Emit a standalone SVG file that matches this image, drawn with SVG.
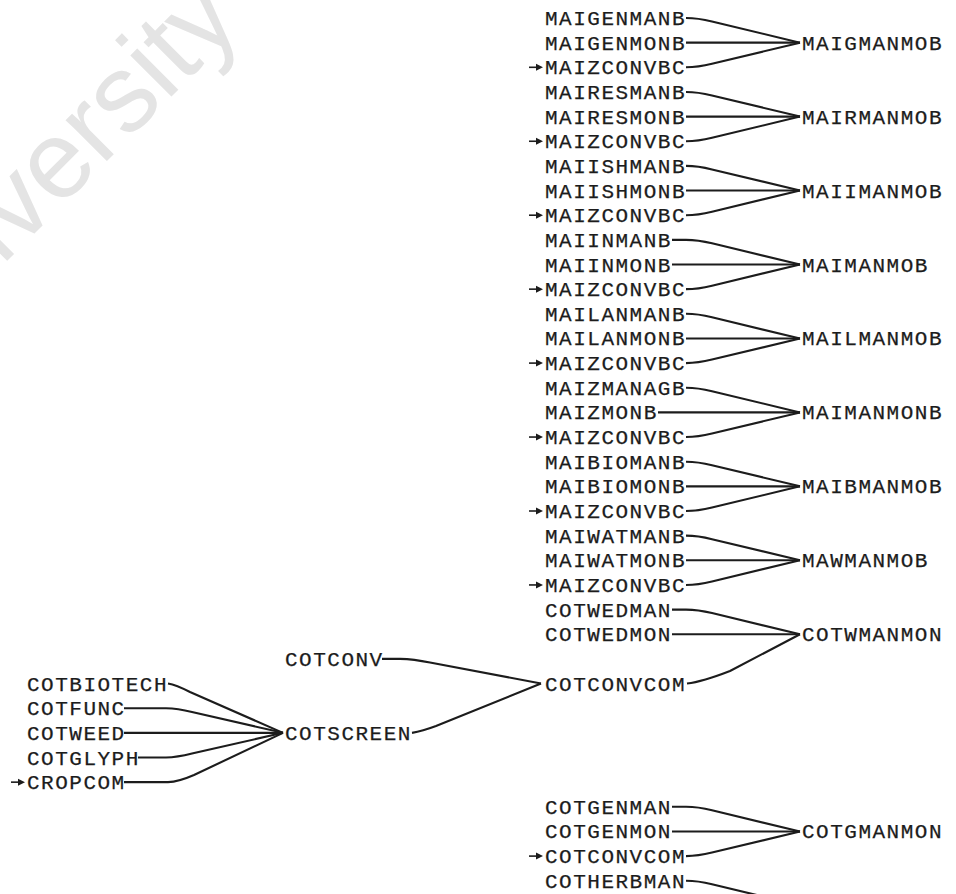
<svg xmlns="http://www.w3.org/2000/svg" width="956" height="894" viewBox="0 0 956 894">
<style>
.t{font-family:"Liberation Mono","DejaVu Sans Mono",monospace;font-size:21px;letter-spacing:1.5px;fill:#1c1c1c;stroke:#1c1c1c;stroke-width:0.25}
.e{fill:none;stroke:#1c1c1c;stroke-width:2.1;stroke-linejoin:round}
.wm{font-family:"Liberation Sans",Arial,sans-serif;font-size:110px;fill:#e4e4e4}
</style>
<defs>
<g id="arr"><path d="M-16,0 H-6" stroke="#1c1c1c" stroke-width="1.6" fill="none"/><path d="M-9,-3.5 L-2,0 L-9,3.5 Z" fill="#1c1c1c"/></g>
</defs>
<rect width="956" height="894" fill="#fff"/>
<text class="wm" text-anchor="end" transform="translate(244,24) rotate(-45)">University</text>

<g id="connectors">
<path class="e" d="M686,18 C698,18 704,19.5 712,21.5 L800,42.65"/>
<path class="e" d="M686,42.65 H800"/>
<path class="e" d="M686,67.3 C698,67.3 704,65.8 712,63.8 L800,42.65"/>
<path class="e" d="M686,91.95 C698,91.95 704,93.45 712,95.45 L800,116.6"/>
<path class="e" d="M686,116.6 H800"/>
<path class="e" d="M686,141.25 C698,141.25 704,139.75 712,137.75 L800,116.6"/>
<path class="e" d="M686,165.9 C698,165.9 704,167.4 712,169.4 L800,190.55"/>
<path class="e" d="M686,190.55 H800"/>
<path class="e" d="M686,215.2 C698,215.2 704,213.7 712,211.7 L800,190.55"/>
<path class="e" d="M672,239.85 H686 C698,239.85 704,241.35 712,243.35 L800,264.5"/>
<path class="e" d="M672,264.5 H800"/>
<path class="e" d="M686,289.15 C698,289.15 704,287.65 712,285.65 L800,264.5"/>
<path class="e" d="M686,313.8 C698,313.8 704,315.3 712,317.3 L800,338.45"/>
<path class="e" d="M686,338.45 H800"/>
<path class="e" d="M686,363.1 C698,363.1 704,361.6 712,359.6 L800,338.45"/>
<path class="e" d="M686,387.75 C698,387.75 704,389.25 712,391.25 L800,412.4"/>
<path class="e" d="M658,412.4 H800"/>
<path class="e" d="M686,437.05 C698,437.05 704,435.55 712,433.55 L800,412.4"/>
<path class="e" d="M686,461.7 C698,461.7 704,463.2 712,465.2 L800,486.35"/>
<path class="e" d="M686,486.35 H800"/>
<path class="e" d="M686,511 C698,511 704,509.5 712,507.5 L800,486.35"/>
<path class="e" d="M686,535.65 C698,535.65 704,537.15 712,539.15 L800,560.3"/>
<path class="e" d="M686,560.3 H800"/>
<path class="e" d="M686,584.95 C698,584.95 704,583.45 712,581.45 L800,560.3"/>
<path class="e" d="M672,609.6 H686 C698,609.6 704,611.1 712,613.1 L800,634.25"/>
<path class="e" d="M672,634.25 H800"/>
<path class="e" d="M687,683.55 C700,682 712,678 730,671 L800,634.25"/>
<path class="e" d="M168,683.55 C176,685 182,688 190,692 L283,732.85"/>
<path class="e" d="M124,708.2 H166 C176,708.4 184,710 192,712 L283,732.85"/>
<path class="e" d="M124,732.85 H283"/>
<path class="e" d="M138,757.5 H166 C176,757.3 184,755.5 192,753.5 L283,732.85"/>
<path class="e" d="M124,782.15 H168 C178,781.8 186,778.5 194,775 L283,732.85"/>
<path class="e" d="M382,658.9 H400 C412,659.2 420,660.5 430,662.5 L541,683.55"/>
<path class="e" d="M412,732.85 C420,731.5 428,729 436,726 L541,683.55"/>
<path class="e" d="M672,806.8 H686 C698,806.8 704,808.3 712,810.3 L800,831.45"/>
<path class="e" d="M672,831.45 H800"/>
<path class="e" d="M686,856.1 C698,856.1 704,854.6 712,852.6 L800,831.45"/>
<path class="e" d="M686,880.75 C698,880.75 704,882.25 712,884.25 L800,905.4"/>
</g>

<g id="MAIGENMANB"><text class="t" x="545" y="25">MAIGENMANB</text></g>
<g id="MAIGENMONB"><text class="t" x="545" y="49.65">MAIGENMONB</text></g>
<g id="MAIZCONVBC-1"><use href="#arr" transform="translate(545,67.3)"/><text class="t" x="545" y="74.3">MAIZCONVBC</text></g>
<g id="MAIGMANMOB"><text class="t" x="802" y="49.65">MAIGMANMOB</text></g>

<g id="MAIRESMANB"><text class="t" x="545" y="98.95">MAIRESMANB</text></g>
<g id="MAIRESMONB"><text class="t" x="545" y="123.6">MAIRESMONB</text></g>
<g id="MAIZCONVBC-2"><use href="#arr" transform="translate(545,141.25)"/><text class="t" x="545" y="148.25">MAIZCONVBC</text></g>
<g id="MAIRMANMOB"><text class="t" x="802" y="123.6">MAIRMANMOB</text></g>

<g id="MAIISHMANB"><text class="t" x="545" y="172.9">MAIISHMANB</text></g>
<g id="MAIISHMONB"><text class="t" x="545" y="197.55">MAIISHMONB</text></g>
<g id="MAIZCONVBC-3"><use href="#arr" transform="translate(545,215.2)"/><text class="t" x="545" y="222.2">MAIZCONVBC</text></g>
<g id="MAIIMANMOB"><text class="t" x="802" y="197.55">MAIIMANMOB</text></g>

<g id="MAIINMANB"><text class="t" x="545" y="246.85">MAIINMANB</text></g>
<g id="MAIINMONB"><text class="t" x="545" y="271.5">MAIINMONB</text></g>
<g id="MAIZCONVBC-4"><use href="#arr" transform="translate(545,289.15)"/><text class="t" x="545" y="296.15">MAIZCONVBC</text></g>
<g id="MAIMANMOB"><text class="t" x="802" y="271.5">MAIMANMOB</text></g>

<g id="MAILANMANB"><text class="t" x="545" y="320.8">MAILANMANB</text></g>
<g id="MAILANMONB"><text class="t" x="545" y="345.45">MAILANMONB</text></g>
<g id="MAIZCONVBC-5"><use href="#arr" transform="translate(545,363.1)"/><text class="t" x="545" y="370.1">MAIZCONVBC</text></g>
<g id="MAILMANMOB"><text class="t" x="802" y="345.45">MAILMANMOB</text></g>

<g id="MAIZMANAGB"><text class="t" x="545" y="394.75">MAIZMANAGB</text></g>
<g id="MAIZMONB"><text class="t" x="545" y="419.4">MAIZMONB</text></g>
<g id="MAIZCONVBC-6"><use href="#arr" transform="translate(545,437.05)"/><text class="t" x="545" y="444.05">MAIZCONVBC</text></g>
<g id="MAIMANMONB"><text class="t" x="802" y="419.4">MAIMANMONB</text></g>

<g id="MAIBIOMANB"><text class="t" x="545" y="468.7">MAIBIOMANB</text></g>
<g id="MAIBIOMONB"><text class="t" x="545" y="493.35">MAIBIOMONB</text></g>
<g id="MAIZCONVBC-7"><use href="#arr" transform="translate(545,511)"/><text class="t" x="545" y="518">MAIZCONVBC</text></g>
<g id="MAIBMANMOB"><text class="t" x="802" y="493.35">MAIBMANMOB</text></g>

<g id="MAIWATMANB"><text class="t" x="545" y="542.65">MAIWATMANB</text></g>
<g id="MAIWATMONB"><text class="t" x="545" y="567.3">MAIWATMONB</text></g>
<g id="MAIZCONVBC-8"><use href="#arr" transform="translate(545,584.95)"/><text class="t" x="545" y="591.95">MAIZCONVBC</text></g>
<g id="MAWMANMOB"><text class="t" x="802" y="567.3">MAWMANMOB</text></g>

<g id="COTWEDMAN"><text class="t" x="545" y="616.6">COTWEDMAN</text></g>
<g id="COTWEDMON"><text class="t" x="545" y="641.25">COTWEDMON</text></g>
<g id="COTWMANMON"><text class="t" x="802" y="641.25">COTWMANMON</text></g>
<g id="COTCONVCOM"><text class="t" x="545" y="690.55">COTCONVCOM</text></g>

<g id="COTCONV"><text class="t" x="285" y="665.9">COTCONV</text></g>
<g id="COTSCREEN"><text class="t" x="285" y="739.85">COTSCREEN</text></g>

<g id="COTBIOTECH"><text class="t" x="27" y="690.55">COTBIOTECH</text></g>
<g id="COTFUNC"><text class="t" x="27" y="715.2">COTFUNC</text></g>
<g id="COTWEED"><text class="t" x="27" y="739.85">COTWEED</text></g>
<g id="COTGLYPH"><text class="t" x="27" y="764.5">COTGLYPH</text></g>
<g id="CROPCOM"><use href="#arr" transform="translate(27,782.15)"/><text class="t" x="27" y="789.15">CROPCOM</text></g>

<g id="COTGENMAN"><text class="t" x="545" y="813.8">COTGENMAN</text></g>
<g id="COTGENMON"><text class="t" x="545" y="838.45">COTGENMON</text></g>
<g id="COTCONVCOM-2"><use href="#arr" transform="translate(545,856.1)"/><text class="t" x="545" y="863.1">COTCONVCOM</text></g>
<g id="COTGMANMON"><text class="t" x="802" y="838.45">COTGMANMON</text></g>
<g id="COTHERBMAN"><text class="t" x="545" y="887.75">COTHERBMAN</text></g>
</svg>
